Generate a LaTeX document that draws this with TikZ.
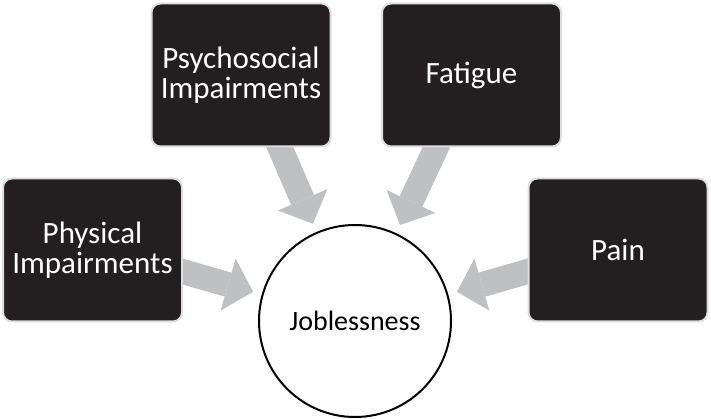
\documentclass[tikz,border=0pt]{standalone}
\usepackage{fontspec}
\setmainfont{Carlito}
\usetikzlibrary{arrows.meta,calc}
\definecolor{boxfill}{RGB}{35,31,32}
\definecolor{boxline}{RGB}{222,222,222}
\definecolor{arrowgray}{RGB}{191,192,194}
\begin{document}
\begin{tikzpicture}[x=1pt,y=1pt,
  factor/.style={draw=boxline, line width=2pt, fill=boxfill, rounded corners=9pt,
    minimum width=179pt, minimum height=143pt, text=white,
    font=\fontsize{31}{29.5}\selectfont, align=center, inner sep=0pt},
  outcome/.style={circle, draw=black, line width=2pt, fill=white, minimum size=192pt,
    font=\fontsize{28}{32}\selectfont, inner sep=0pt},
  flow/.style={arrowgray, line width=25pt, -{Triangle[length=26pt,width=54pt,line width=0pt]}}]
\useasboundingbox (0,0) rectangle (711,419);
\node[outcome] (J) at (355,98) {Joblessness};
\coordinate (s1) at ($(J.center)+(164:200pt)$);
\coordinate (t1) at ($(J.center)+(164:106pt)$);
\coordinate (s2) at ($(J.center)+(113.4:200pt)$);
\coordinate (t2) at ($(J.center)+(113.4:106pt)$);
\coordinate (s3) at ($(J.center)+(64.9:200pt)$);
\coordinate (t3) at ($(J.center)+(64.9:106pt)$);
\coordinate (s4) at ($(J.center)+(16:200pt)$);
\coordinate (t4) at ($(J.center)+(16:106pt)$);
\draw[flow] (s1) -- (t1);
\draw[flow] (s2) -- (t2);
\draw[flow] (s3) -- (t3);
\draw[flow] (s4) -- (t4);
\node[factor] (phys) at (92.5,169) {Physical\\Impairments};
\node[factor] (psy) at (241,344) {Psychosocial\\Impairments};
\node[factor] (fat) at (471.5,344) {Fatigue};
\node[factor] (pain) at (618,169) {Pain};
\end{tikzpicture}
\end{document}
